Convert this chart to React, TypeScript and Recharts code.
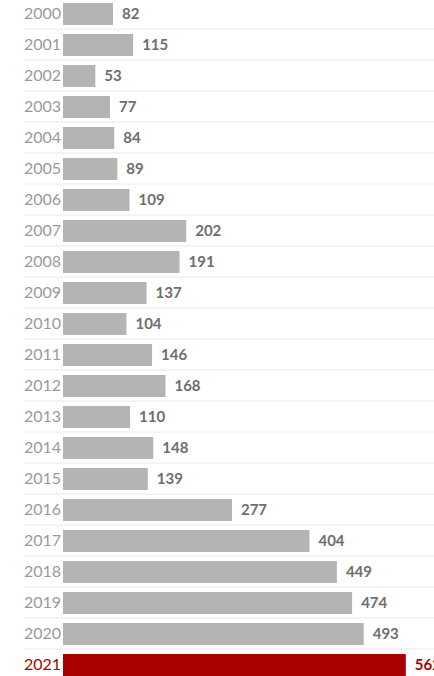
import { Bar, BarChart, Cell, LabelList, XAxis, YAxis } from "recharts";

const years = [
  "2000", "2001", "2002", "2003", "2004", "2005", "2006", "2007", "2008", "2009", "2010",
  "2011", "2012", "2013", "2014", "2015", "2016", "2017", "2018", "2019", "2020", "2021",
];
const counts = [
  82, 115, 53, 77, 84, 89, 109, 202, 191, 137, 104,
  146, 168, 110, 148, 139, 277, 404, 449, 474, 493, 562,
];
const highlightYear = "2021";

const data = years.map((year, i) => ({ year, count: counts[i] }));

const GRAY = "#b4b4b4";
const RED = "#a80000";
const FONT = "Lato, 'Open Sans', sans-serif";

function YearTick(props: any) {
  const { y, payload } = props;
  const half = payload.offset ?? 15.5;
  const hot = payload.value === highlightYear;
  return (
    <g>
      <line x1={24} x2={434} y1={y - half} y2={y - half} stroke="#e8e8e8" strokeWidth={1} />
      <text
        x={24}
        y={y}
        dy="0.36em"
        textAnchor="start"
        fontSize={16}
        fontFamily={FONT}
        fill={hot ? RED : "#9a9a9a"}
      >
        {payload.value}
      </text>
    </g>
  );
}

function ValueLabel(props: any) {
  const { x, y, width, height, value, index } = props;
  const hot = years[index] === highlightYear;
  return (
    <text
      x={x + width + 9}
      y={y + height / 2}
      dy="0.36em"
      fontSize={15}
      fontWeight={700}
      fontFamily={FONT}
      fill={hot ? RED : "#6e6e6e"}
    >
      {value}
    </text>
  );
}

export default function App() {
  return (
    <div style={{ position: "absolute", left: 0, top: 0, width: 434, height: 676, overflow: "hidden" }}>
      <div style={{ position: "relative", top: -2 }}>
        <BarChart
          width={434}
          height={682}
          data={data}
          layout="vertical"
          margin={{ top: 0, right: 5, bottom: 0, left: 0 }}
        >
          <XAxis type="number" domain={[0, 600]} hide />
          <YAxis
            type="category"
            dataKey="year"
            width={63}
            axisLine={false}
            tickLine={false}
            interval={0}
            tick={<YearTick />}
          />
          <Bar dataKey="count" barSize={22} isAnimationActive={false}>
            {data.map((d) => (
              <Cell key={d.year} fill={d.year === highlightYear ? RED : GRAY} />
            ))}
            <LabelList dataKey="count" content={<ValueLabel />} />
          </Bar>
        </BarChart>
      </div>
    </div>
  );
}
